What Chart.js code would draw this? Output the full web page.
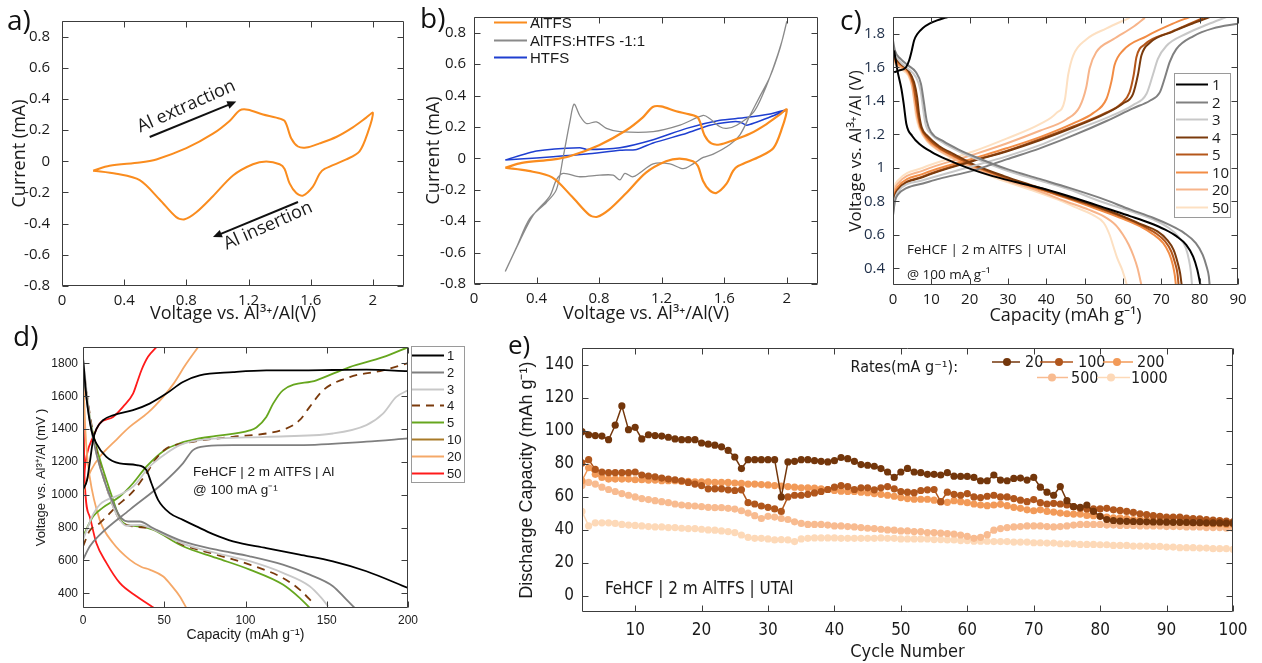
<!DOCTYPE html>
<html>
<head>
<meta charset="utf-8">
<script src="https://cdn.jsdelivr.net/npm/chart.js@4.4.1/dist/chart.umd.min.js"></script>
<style>
  html, body { margin: 0; padding: 0; background: #fff; }
  body { width: 1262px; height: 663px; position: relative; overflow: hidden; }
  .panel { position: absolute; }
  .panel canvas { display: block; }
  .tag { position: absolute; font-family: 'Open Sans', 'Noto Sans', sans-serif; color: #111; line-height: 1; }
</style>
</head>
<body>
<div class="panel" style="left:0;top:0"><canvas id="ca" width="420" height="330"></canvas></div>
<div class="panel" style="left:420px;top:0"><canvas id="cb" width="420" height="330"></canvas></div>
<div class="panel" style="left:840px;top:0"><canvas id="cc" width="422" height="330"></canvas></div>
<div class="panel" style="left:0;top:330px"><canvas id="cd" width="500" height="333"></canvas></div>
<div class="panel" style="left:500px;top:330px"><canvas id="ce" width="762" height="333"></canvas></div>
<div class="tag" style="left:7px;top:5px;font-size:28px">a)</div>
<div class="tag" style="left:420px;top:3px;font-size:28px">b)</div>
<div class="tag" style="left:840px;top:5px;font-size:28px">c)</div>
<div class="tag" style="left:13px;top:321px;font-size:28px">d)</div>
<div class="tag" style="left:508px;top:331px;font-size:26px">e)</div>
<script>
// ---------- fonts ----------
const F_UI = "'Open Sans', 'Noto Sans', sans-serif";
const F_ARIAL = "'Liberation Sans', Arial, sans-serif";
const F_NARROW = "'Liberation Sans Narrow', 'DejaVu Sans Condensed', 'Liberation Sans', sans-serif";

// ---------- a) / b) cyclic voltammetry (V vs. Al3+/Al, mA) ----------
const cvAlTFS = [[0.2,-0.06],[0.306,-0.029],[0.5,-0.008],[0.607,0.012],[0.8,0.084],[0.971,0.177],[1.078,0.259],[1.143,0.327],[1.196,0.331],[1.293,0.300],[1.378,0.280],[1.432,0.259],[1.475,0.146],[1.518,0.095],[1.571,0.088],[1.657,0.115],[1.764,0.156],[1.871,0.218],[1.957,0.280],[2.0,0.311],[1.968,0.187],[1.914,0.064],[1.829,0.012],[1.689,-0.049],[1.657,-0.080],[1.614,-0.163],[1.55,-0.220],[1.507,-0.204],[1.464,-0.142],[1.432,-0.049],[1.4,-0.019],[1.314,-0.002],[1.228,-0.019],[1.1,-0.091],[0.971,-0.224],[0.864,-0.327],[0.789,-0.372],[0.735,-0.358],[0.628,-0.245],[0.5,-0.121],[0.349,-0.08],[0.2,-0.06]];
const cvMixed = [[0.2,-0.72],[0.271,-0.568],[0.356,-0.384],[0.463,-0.281],[0.527,-0.199],[0.57,0.006],[0.613,0.232],[0.64,0.345],[0.676,0.273],[0.719,0.222],[0.783,0.232],[0.847,0.191],[0.933,0.170],[1.146,0.170],[1.317,0.211],[1.466,0.273],[1.509,0.252],[1.573,0.201],[1.616,0.191],[1.68,0.211],[1.787,0.293],[1.851,0.416],[1.915,0.58],[1.969,0.745],[2.0,0.87],[1.958,0.704],[1.893,0.519],[1.829,0.396],[1.765,0.273],[1.701,0.15],[1.637,0.088],[1.53,0.027],[1.466,0.006],[1.402,-0.035],[1.338,-0.066],[1.253,-0.035],[1.146,-0.035],[1.018,-0.117],[0.965,-0.096],[0.933,-0.137],[0.89,-0.107],[0.805,-0.107],[0.677,-0.117],[0.57,-0.096],[0.527,-0.137],[0.485,-0.24],[0.378,-0.363],[0.292,-0.527],[0.2,-0.72]];
const cvHTFS = [[0.2,-0.01],[0.4,0.047],[0.677,0.068],[0.72,0.057],[0.933,0.068],[1.146,0.119],[1.36,0.191],[1.573,0.242],[1.723,0.258],[1.893,0.283],[2.0,0.31],[1.893,0.263],[1.744,0.211],[1.701,0.232],[1.637,0.232],[1.509,0.211],[1.36,0.160],[1.146,0.098],[1.04,0.057],[0.933,0.051],[0.72,0.027],[0.506,0.01],[0.292,-0.004],[0.2,-0.01]];
const cvXTicks = [0, 0.4, 0.8, 1.2, 1.6, 2];
const cvYTicks = [-0.8, -0.6, -0.4, -0.2, 0, 0.2, 0.4, 0.6, 0.8];

// ---------- c) charge / discharge, FeHCF | AlTFS | UTAl (mAh/g, V) ----------
const c1Charge = [[0.3,1.57],[1.5,1.58],[3.4,1.60],[4.2,1.64],[4.9,1.70],[5.5,1.76],[6.4,1.80],[7.8,1.835],[9.5,1.86],[11.5,1.88],[13.5,1.895],[15,1.905]];
const c1Discharge = [[0.3,1.70],[1.2,1.575],[2.2,1.47],[2.8,1.38],[3.5,1.26],[5,1.19],[7,1.14],[10,1.095],[14,1.05],[20,0.995],[26,0.95],[32,0.915],[40,0.87],[48,0.815],[56,0.755],[62,0.71],[67,0.67],[71,0.63],[74,0.59],[76.5,0.54],[78.3,0.47],[79.4,0.39],[80.2,0.30]];
const c2Charge = [[0,0.715],[0.5,0.80],[1.3,0.84],[3.5,0.878],[7.8,0.906],[12.2,0.935],[20.9,0.983],[29.6,1.05],[38.3,1.116],[47,1.193],[55.7,1.279],[62.6,1.355],[67,1.40],[69.6,1.45],[70.9,1.536],[72.2,1.632],[73.9,1.708],[78.3,1.785],[83.5,1.832],[90,1.86]];
const c2Discharge = [[0,1.76],[0.5,1.70],[2,1.65],[4,1.61],[6,1.57],[7.3,1.50],[8,1.40],[8.8,1.28],[10,1.21],[13,1.16],[17,1.11],[22,1.06],[30,0.99],[38,0.935],[46,0.88],[54,0.82],[62,0.75],[68,0.70],[72,0.66],[76,0.61],[79,0.55],[80.8,0.48],[81.8,0.41],[82.4,0.35],[82.6,0.30]];
const c3Charge = [[0,0.72],[0.5,0.81],[1.3,0.858],[7.8,0.925],[20.9,1.01],[29.6,1.068],[38.3,1.135],[47,1.22],[55.7,1.298],[62.6,1.374],[66.1,1.44],[67.8,1.555],[69.1,1.65],[71.3,1.727],[76.5,1.80],[82,1.855],[87,1.9]];
const c3Discharge = [[0,1.72],[0.5,1.68],[2,1.63],[4,1.59],[6,1.54],[7.2,1.46],[7.8,1.36],[8.5,1.26],[10,1.2],[13,1.15],[17,1.10],[22,1.05],[30,0.98],[38,0.925],[46,0.87],[54,0.80],[62,0.74],[68,0.69],[72,0.64],[74.8,0.58],[76.4,0.52],[77.2,0.45],[77.7,0.38],[78,0.30]];
const c4Charge = [[0,0.753],[0.5,0.83],[1.3,0.868],[7.8,0.944],[20.9,1.04],[29.6,1.097],[38.3,1.164],[47,1.24],[55.7,1.326],[60,1.384],[62.6,1.44],[63.9,1.555],[64.8,1.67],[67,1.746],[73,1.813],[78,1.86],[82.6,1.9]];
const c4Discharge = [[0,1.68],[0.5,1.66],[2,1.62],[4,1.58],[5.5,1.51],[6.3,1.42],[6.8,1.32],[7.5,1.24],[9,1.19],[12,1.13],[16,1.08],[21,1.02],[29,0.95],[37,0.89],[45,0.83],[53,0.77],[60,0.71],[65,0.66],[69,0.62],[71.5,0.57],[73.2,0.51],[74.3,0.43],[74.9,0.37],[75.3,0.30]];
const c5Charge = [[0,0.763],[0.5,0.835],[1.3,0.872],[7.8,0.948],[20.9,1.044],[29.6,1.10],[38.3,1.17],[47,1.246],[55.7,1.33],[59.6,1.384],[61.7,1.45],[62.8,1.555],[63.5,1.66],[65.7,1.737],[72.2,1.808],[77,1.855],[80.9,1.895]];
const c5Discharge = [[0,1.67],[0.5,1.65],[2,1.62],[4,1.58],[5.3,1.50],[6,1.40],[6.6,1.31],[7.3,1.24],[9,1.18],[12,1.12],[16,1.07],[21,1.015],[29,0.945],[37,0.885],[45,0.825],[53,0.765],[60,0.705],[65,0.655],[68.5,0.61],[71,0.56],[72.6,0.50],[73.6,0.43],[74.2,0.37],[74.5,0.30]];
const c10Charge = [[0,0.773],[0.5,0.85],[1.3,0.887],[7.8,0.963],[20.9,1.055],[29.6,1.116],[38.3,1.183],[47,1.265],[52.2,1.326],[55.7,1.412],[57,1.517],[57.8,1.613],[60,1.70],[66.1,1.785],[73,1.86],[77.4,1.9]];
const c10Discharge = [[0,1.66],[0.5,1.64],[2,1.61],[4,1.57],[5.2,1.50],[5.9,1.40],[6.5,1.31],[7.2,1.24],[9,1.17],[12,1.115],[16,1.065],[21,1.01],[29,0.94],[37,0.88],[45,0.82],[53,0.755],[60,0.695],[64.5,0.65],[68,0.60],[70.5,0.55],[72,0.49],[73,0.42],[73.5,0.36],[73.8,0.30]];
const c20Charge = [[0,0.79],[0.5,0.87],[1.3,0.906],[7.8,0.983],[20.9,1.078],[29.6,1.145],[38.3,1.221],[45.2,1.288],[48.7,1.364],[50.4,1.479],[51.3,1.594],[53,1.689],[57.4,1.766],[62.6,1.84],[65.7,1.895]];
const c20Discharge = [[0,1.65],[0.5,1.63],[2,1.60],[4,1.56],[5,1.49],[5.6,1.40],[6.2,1.31],[7,1.24],[9,1.16],[12,1.105],[16,1.055],[21,1.0],[29,0.93],[37,0.87],[45,0.80],[51,0.75],[55,0.71],[58,0.66],[60,0.60],[61.5,0.54],[62.8,0.47],[63.8,0.40],[64.8,0.30]];
const c50Charge = [[0,0.81],[0.5,0.89],[1.3,0.925],[7.8,1.0],[20.9,1.097],[29.6,1.174],[38.3,1.26],[42.6,1.326],[44.8,1.403],[45.7,1.555],[47,1.67],[50.4,1.766],[55.7,1.832],[61.7,1.895]];
const c50Discharge = [[0,1.64],[0.5,1.62],[2,1.59],[4,1.55],[5,1.48],[5.5,1.40],[6,1.31],[6.8,1.24],[9,1.155],[12,1.10],[16,1.05],[21,0.99],[29,0.92],[37,0.86],[43,0.81],[48,0.76],[52,0.72],[55,0.67],[56.5,0.60],[57.5,0.53],[58.5,0.46],[59.8,0.39],[61,0.30]];
const cCycles = ['1', '2', '3', '4', '5', '10', '20', '50'];
const cColors = ['#000000', '#808080', '#c8c8c8', '#7a3a0c', '#b4561a', '#f28c45', '#f7b48a', '#fde0c2'];
const cXTicks = [0, 10, 20, 30, 40, 50, 60, 70, 80, 90];
const cYTicks = [0.4, 0.6, 0.8, 1, 1.2, 1.4, 1.6, 1.8];

// ---------- d) charge / discharge, FeHCF | AlTFS | Al (mAh/g, mV) ----------
const d1Charge = [[0,1030],[2.5,1090],[4.1,1191],[6.2,1333],[8.2,1400],[12.3,1454],[18.5,1484],[30.8,1515],[41,1555],[51.3,1616],[61.5,1687],[71.8,1727],[92.3,1747],[112.8,1758],[133,1758],[153.8,1760],[174.4,1762],[200,1753]];
const d1Discharge = [[0,1830],[0.4,1790],[2.1,1595],[5.2,1393],[8.2,1313],[14.4,1231],[22.6,1191],[32.9,1181],[39,1151],[42.1,1070],[46.2,969],[53.4,888],[61.5,847],[69.8,807],[80,760],[92.3,716],[112.8,675],[133.3,635],[153.8,594],[174.4,534],[200,432]];
const d2Charge = [[0,604],[4.1,685],[10.3,756],[28.7,908],[49.2,1070],[61.5,1191],[67.7,1272],[75.9,1296],[92.3,1302],[133,1302],[174.4,1323],[200,1343]];
const d2Discharge = [[0,1757],[4.1,1454],[8.2,1252],[14.4,1049],[19.5,928],[23.6,857],[27.7,837],[34.9,837],[43,797],[61.5,716],[82,665],[102.6,625],[123,574],[139.5,513],[153.8,443],[162,362],[167.2,311]];
const d3Charge = [[0,726],[6.2,880],[10.3,940],[22.6,1000],[30.8,1049],[41,1171],[51.3,1252],[59.5,1302],[71.8,1333],[112.8,1353],[153.8,1373],[174.4,1424],[184.6,1494],[192.8,1596],[200,1636]];
const d3Discharge = [[0,1838],[4.1,1474],[8.2,1252],[14.4,1049],[18.5,928],[22.6,847],[26.7,811],[34.9,817],[43,791],[61.5,702],[82,645],[102.6,595],[123,524],[139.5,443],[146.7,372],[150.8,321]];
const d4Charge = [[0,685],[4.1,780],[10.3,827],[20.5,928],[30.8,1020],[39,1130],[45,1220],[51.3,1282],[61.5,1312],[92.3,1353],[112.8,1373],[125,1403],[133.3,1454],[139.5,1535],[147.7,1636],[164.1,1717],[184.6,1758],[200,1802]];
const d4Discharge = [[0,1798],[4.1,1495],[8.2,1272],[14.4,1049],[19.5,908],[22.6,847],[30.8,807],[41,797],[61.5,695],[82,635],[102.6,574],[123,493],[133.3,422],[142.6,331]];
const d5Charge = [[0,746],[6.2,867],[12,920],[22.6,989],[30.8,1070],[39,1171],[50,1270],[59.5,1313],[70,1340],[82,1358],[102.6,1392],[106.7,1410],[112.8,1474],[117,1555],[123,1636],[143.6,1697],[164.1,1778],[184.6,1838],[200,1899]];
const d5Discharge = [[0,1778],[4.1,1474],[8.2,1292],[14.4,1090],[18.5,969],[22.6,857],[26.7,817],[34.9,807],[43,787],[61.5,686],[82,615],[102.6,544],[123,453],[133.3,372],[139.5,311]];
const d10Charge = [];
const d10Discharge = [];
const d20Charge = [[0,1000],[2,1080],[5,1150],[10.3,1231],[20,1330],[28.7,1413],[40,1500],[49.2,1595],[56,1680],[63,1790],[70.8,1899]];
const d20Discharge = [[0,1800],[1,1500],[2,1300],[4.1,1110],[10.3,847],[18.5,706],[28.7,605],[36,560],[41,544],[49.2,503],[55,440],[59.5,382],[63.6,311]];
const d50Charge = [[0,1050],[1,1150],[2.5,1250],[6.2,1353],[10.3,1434],[18.5,1474],[24.6,1535],[30.8,1616],[33.5,1690],[35.9,1757],[40,1840],[45.2,1899]];
const d50Discharge = [[0,1700],[0.5,1400],[1,1090],[4.1,867],[8.2,706],[14.4,585],[22.6,463],[32.9,382],[42.1,321],[43.5,311]];
const dCycles = ['1', '2', '3', '4', '5', '10', '20', '50'];
const dColors = ['#000000', '#7f7f7f', '#c8c8c8', '#7a3a0c', '#66a61e', '#a87a28', '#f5a868', '#ff1a1a'];
const dXTicks = [0, 50, 100, 150, 200];
const dYTicks = [400, 600, 800, 1000, 1200, 1400, 1600, 1800];

// ---------- e) rate cycling, discharge capacity (mAh/g) ----------
const cycleNo = [2,3,4,5,6,7,8,9,10,11, 12,13,14,15,16,17,18,19,20,21, 22,23,24,25,26,27,28,29,30,31, 32,33,34,35,36,37,38,39,40,41, 42,43,44,45,46,47,48,49,50,51, 52,53,54,55,56,57,58,59,60,61, 62,63,64,65,66,67,68,69,70,71, 72,73,74,75,76,77,78,79,80,81, 82,83,84,85,86,87,88,89,90,91, 92,93,94,95,96,97,98,99,100];
const cap20 = [99.4,97.5,97,96.7,94.5,103.3,115,100.6,102,95, 97.5,97,96.7,96,95,94.5,94.5,94.5,92.5,91.8, 91.2,90.2,88,84,77,82.4,82.4,82.4,82.4,82.4, 59.8,81,81.4,82.4,82.4,81.8,81.4,81,81.8,83.7, 83,81.4,79.4,79,78.4,77,74.9,71.6,74.9,77.1, 74.9,74.5,73.5,73.5,73.1,74.5,72.4,72.2,72.2,71.6, 69.6,69.6,73.1,70,69.6,71,71.2,70,71.6,65.7, 62.7,60.8,66.1,57.5,53.9,53.5,54.9,51,48,46.1, 45.5,45.1,45,44.9,44.8,44.7,44.6,44.6,44.5,44.4, 44.4,44.3,44.2,44.2,44.1,44.0,44.0,43.9,43.9];
const cap100 = [80.4,82.4,76.5,74.9,74.5,74.5,74.5,74.5,74.9,73.1, 72.5,72,71.2,70.6,70.2,69.6,68.6,67.6,66.7,64.7, 64.7,64.7,64.1,63.7,64.1,56.3,55.5,54.3,53.5,52.5, 51,59.8,60.8,60.8,61.4,62.2,63.1,64.3,65.7,66.7, 66.1,64.3,65.3,65.3,64.1,65.3,66.1,64.7,63.1,62.7, 62.4,63.7,64.1,64.3,56.9,62.7,61.4,60.8,61.8,59.8, 59.4,60.2,60.8,59.8,59.8,58.8,57.8,56.9,58.2,56.3, 55.5,55.9,55.5,54.9,53.9,52.9,52.5,52.5,52.5,52.9, 52,51.6,51,50.4,49.6,49,48.4,48,47.6,47.6, 47.5,47,46.7,46.5,46.1,45.7,45.5,45.1,44.7];
const cap200 = [69.6,77.5,73.5,71.6,70.6,70.6,70.6,70.6,70.2,70.2, 70,70,69.6,69.6,69.6,69.2,69.2,69,69,69, 68.6,68.6,68.6,68.2,68,67.6,67.6,67.3,67.1,66.7, 66.3,66.1,65.7,65.3,65.3,65.1,64.7,64.3,63.7,63.3, 63.1,63.1,62.7,62.4,61.8,61.4,60.8,60.2,59.4,58.8, 58.4,58.4,58.4,57.8,56.9,56.5,57.5,56.9,56.3,55.5, 54.9,54.5,54.9,55.3,54.5,53.5,52.9,52,51.4,52, 51,50.6,50,49.6,49.4,49.4,48.6,48.4,48,47.6, 47.1,47.1,46.7,46.1,46.1,45.7,45.5,45.1,45.1,44.7, 44.5,44.5,44.1,44.1,43.7,43.5,43.5,43.1,43.1];
const cap500 = [66.7,68.6,67.6,65.7,64.3,63.1,61.8,60.8,59.8,58.8, 58.2,57.5,56.9,56.3,55.5,54.9,54.5,54.3,53.9,53.5, 53.3,53.3,52.9,52.4,51.4,50,48.4,46.7,48,47.6, 46.7,46.1,44.7,43.7,43.1,43.1,43.1,42.7,42.2,42.2, 41.8,41.6,41.2,40.8,40.6,40.2,39.8,39.6,39.2,39.2, 38.8,38.8,38.2,38.2,37.8,37.6,37.3,36.7,35.9,34.7, 35.3,36.9,39.6,40.6,41.2,41.6,41.8,42.2,42.2,42.2, 41.8,41.6,41.8,42.2,42.7,43.1,43.1,43.1,43.1,42.7, 42.7,42.5,42.5,42.5,42.2,42.2,42.2,42.2,41.8,41.8, 41.8,41.6,41.6,41.6,41.2,41.2,41.2,40.8,40.8];
const cap1000 = [51,42.2,44.1,44.1,44.1,43.7,43.1,42.7,42.5,42.2, 41.8,41.6,41.6,41.2,41.2,40.8,40.6,40.6,40.2,39.8, 39.6,39.2,38.8,38.2,36.7,35.3,34.7,34.7,34.3,33.7, 33.9,33.7,32.7,34.3,34.7,34.9,34.9,34.9,34.9,34.7, 34.7,34.7,34.7,34.7,34.7,34.9,34.7,34.7,34.3,34.3, 34.3,34.3,34.3,33.9,33.9,33.7,33.7,33.3,33.3,32.9, 32.9,32.9,32.7,32.7,32.7,32.4,32.4,32.4,32,32, 31.8,31.8,31.4,31.4,31.4,31,31,31,30.8,30.8, 30.4,30.4,30.4,30,30,30,29.8,29.8,29.4,29.4, 29,29,29,28.8,28.8,28.4,28.4,28.4,28];
const rateLabels = ['20', '100', '200', '500', '1000'];
const rateColors = ['#73360b', '#b0561c', '#f29a58', '#f8bb90', '#fdd9b8'];
const eXTicks = [10, 20, 30, 40, 50, 60, 70, 80, 90, 100];
const eYTicks = [0, 20, 40, 60, 80, 100, 120, 140];

// ---------- helpers ----------
const toXY = pairs => pairs.map(p => ({ x: p[0], y: p[1] }));
const plain = v => String(v);

// box around the plot with inward tick marks on all four sides
const framePlugin = {
  id: 'frame',
  afterDatasetsDraw(chart) {
    const { ctx, chartArea: A } = chart;
    const xs = chart.scales.x, ys = chart.scales.y;
    const len = 6;
    const L = Math.round(A.left) + 0.5, R = Math.round(A.right) - 0.5;
    const T = Math.round(A.top) + 0.5, B = Math.round(A.bottom) - 0.5;
    ctx.save();
    ctx.strokeStyle = '#3c3c3c';
    ctx.lineWidth = 1;
    ctx.beginPath();
    ctx.rect(L, T, R - L, B - T);
    xs.ticks.forEach(t => {
      const p = Math.round(xs.getPixelForValue(t.value)) + 0.5;
      ctx.moveTo(p, B); ctx.lineTo(p, B - len);
      ctx.moveTo(p, T); ctx.lineTo(p, T + len);
    });
    ys.ticks.forEach(t => {
      const p = Math.round(ys.getPixelForValue(t.value)) + 0.5;
      ctx.moveTo(L, p); ctx.lineTo(L + len, p);
      ctx.moveTo(R, p); ctx.lineTo(R - len, p);
    });
    ctx.stroke();
    ctx.restore();
  }
};

// free text and arrows; positions in data units (d:true) or canvas pixels
function notes(items) {
  return {
    id: 'notes',
    afterDraw(chart) {
      const { ctx } = chart;
      const xs = chart.scales.x, ys = chart.scales.y;
      const px = it => it.d ? [xs.getPixelForValue(it.x), ys.getPixelForValue(it.y)] : [it.x, it.y];
      items.forEach(it => {
        ctx.save();
        if (it.arrow) {
          const a = it.d ? [xs.getPixelForValue(it.x0), ys.getPixelForValue(it.y0)] : [it.x0, it.y0];
          const b = it.d ? [xs.getPixelForValue(it.x1), ys.getPixelForValue(it.y1)] : [it.x1, it.y1];
          const ang = Math.atan2(b[1] - a[1], b[0] - a[0]);
          const h = 9;
          ctx.strokeStyle = '#111'; ctx.fillStyle = '#111'; ctx.lineWidth = 2;
          ctx.beginPath();
          ctx.moveTo(a[0], a[1]);
          ctx.lineTo(b[0] - h * 0.8 * Math.cos(ang), b[1] - h * 0.8 * Math.sin(ang));
          ctx.stroke();
          ctx.beginPath();
          ctx.moveTo(b[0], b[1]);
          ctx.lineTo(b[0] - h * Math.cos(ang) + 4 * Math.sin(ang), b[1] - h * Math.sin(ang) - 4 * Math.cos(ang));
          ctx.lineTo(b[0] - h * Math.cos(ang) - 4 * Math.sin(ang), b[1] - h * Math.sin(ang) + 4 * Math.cos(ang));
          ctx.closePath();
          ctx.fill();
        } else {
          const [x, y] = px(it);
          ctx.translate(x, y);
          if (it.rot) ctx.rotate(it.rot * Math.PI / 180);
          ctx.font = it.font;
          ctx.fillStyle = it.color || '#1a1a1a';
          ctx.textAlign = it.align || 'left';
          ctx.textBaseline = 'middle';
          ctx.fillText(it.text, 0, 0);
        }
        ctx.restore();
      });
    }
  };
}

// line-sample key built from datasets flagged with key:true
function lineKey(k) {
  return {
    id: 'lineKey',
    afterDraw(chart) {
      const { ctx } = chart;
      const items = chart.data.datasets.filter(d => d.key);
      ctx.save();
      if (k.box) {
        ctx.fillStyle = '#fff';
        ctx.fillRect(k.box[0], k.box[1], k.box[2], k.box[3]);
        ctx.strokeStyle = '#9a9a9a'; ctx.lineWidth = 1;
        ctx.strokeRect(k.box[0] + 0.5, k.box[1] + 0.5, k.box[2], k.box[3]);
      }
      items.forEach((d, i) => {
        const y = Math.round(k.y0 + i * k.dy) + 0.5;
        ctx.strokeStyle = d.borderColor;
        ctx.lineWidth = k.lw || d.borderWidth;
        ctx.setLineDash(d.borderDash || []);
        ctx.beginPath(); ctx.moveTo(k.x0, y); ctx.lineTo(k.x1, y); ctx.stroke();
        ctx.setLineDash([]);
        ctx.fillStyle = '#1a1a1a';
        ctx.font = k.font; ctx.textAlign = 'left'; ctx.textBaseline = 'middle';
        ctx.fillText(d.label, k.tx, y + 1);
      });
      ctx.restore();
    }
  };
}

// line+marker key laid out in slots: [lineStart, lineEnd, markerX, textX, rowY]
function markerKey(slots, font) {
  return {
    id: 'markerKey',
    afterDraw(chart) {
      const { ctx } = chart;
      ctx.save();
      chart.data.datasets.forEach((d, i) => {
        const s = slots[i];
        ctx.strokeStyle = d.borderColor; ctx.lineWidth = 1.5;
        ctx.beginPath(); ctx.moveTo(s[0], s[4]); ctx.lineTo(s[1], s[4]); ctx.stroke();
        ctx.fillStyle = d.backgroundColor;
        ctx.beginPath(); ctx.arc(s[2], s[4], 4, 0, Math.PI * 2); ctx.fill();
        ctx.fillStyle = '#1a1a1a'; ctx.font = font;
        ctx.textAlign = 'left'; ctx.textBaseline = 'middle';
        ctx.fillText(d.label, s[3], s[4] + 1);
      });
      ctx.restore();
    }
  };
}

// fixes the plotting rectangle inside its canvas
function axes(box, W, H, x, y) {
  const [L, T, R, B] = box;
  return {
    layout: { padding: { left: 0, top: T, right: W - R, bottom: 0 } },
    scales: {
      x: Object.assign({
        type: 'linear', position: 'bottom',
        afterFit: s => { s.height = H - B; },
        afterBuildTicks: s => { s.ticks = x.ticks.map(v => ({ value: v })); },
        grid: { display: false, drawTicks: false }, border: { display: false },
        ticks: { font: x.font, color: x.color || '#1a1a1a', padding: x.pad, maxRotation: 0, autoSkip: false, callback: plain },
        title: { display: true, text: x.title, font: x.tfont, color: '#1a1a1a', padding: { top: 0, bottom: x.tpad } }
      }, x.range),
      y: Object.assign({
        type: 'linear', position: 'left',
        afterFit: s => { s.width = L; },
        afterBuildTicks: s => { s.ticks = y.ticks.map(v => ({ value: v })); },
        grid: { display: false, drawTicks: false }, border: { display: false },
        ticks: { font: y.font, color: y.color || '#1a1a1a', padding: y.pad, autoSkip: false, callback: plain },
        title: { display: true, text: y.title, font: y.tfont, color: '#1a1a1a', padding: { top: y.tpad, bottom: 0 } }
      }, y.range)
    }
  };
}

function base(extra, plugins) {
  return {
    type: 'scatter',
    data: { datasets: extra.datasets },
    options: Object.assign({
      responsive: false, animation: false, devicePixelRatio: 1,
      plugins: { legend: { display: false }, tooltip: { enabled: false } },
      elements: { point: { radius: 0 } }
    }, extra.opts),
    plugins: [framePlugin].concat(plugins)
  };
}

// ---------- a) ----------
{
  const ax = axes([62, 11, 404, 286], 420, 330,
    { ticks: cvXTicks, range: { min: 0, max: 2.2 }, font: { family: F_UI, size: 15 }, pad: 6,
      title: 'Voltage vs. Al³⁺/Al(V)', tfont: { family: F_UI, size: 18 }, tpad: 5 },
    { ticks: cvYTicks, range: { min: -0.8, max: 0.9 }, font: { family: F_UI, size: 15 }, pad: 12,
      title: 'Current (mA)', tfont: { family: F_UI, size: 18 }, tpad: 9 });
  new Chart(document.getElementById('ca'), base({
    datasets: [{ label: 'AlTFS', data: toXY(cvAlTFS), showLine: true, borderColor: '#fa8c1e', borderWidth: 2, tension: 0.3 }],
    opts: ax
  }, [notes([
    { arrow: true, d: true, x0: 0.564, y0: 0.156, x1: 1.121, y1: 0.383 },
    { arrow: true, d: true, x0: 1.518, y0: -0.261, x1: 0.971, y1: -0.486 },
    { d: true, x: 0.80, y: 0.352, text: 'Al extraction', rot: -24, align: 'center', font: "18px " + F_UI },
    { d: true, x: 1.325, y: -0.414, text: 'Al insertion', rot: -24, align: 'center', font: "18px " + F_UI }
  ])]));
}

// ---------- b) ----------
{
  const ax = axes([54, 8, 398, 284], 420, 330,
    { ticks: cvXTicks, range: { min: 0, max: 2.2 }, font: { family: F_UI, size: 15 }, pad: 6,
      title: 'Voltage vs. Al³⁺/Al(V)', tfont: { family: F_UI, size: 18 }, tpad: 5 },
    { ticks: cvYTicks, range: { min: -0.8, max: 0.9 }, font: { family: F_UI, size: 15 }, pad: 8,
      title: 'Current (mA)', tfont: { family: F_UI, size: 18 }, tpad: 3 });
  new Chart(document.getElementById('cb'), base({
    datasets: [
      { label: 'AlTFS', key: true, data: toXY(cvAlTFS), showLine: true, borderColor: '#fa8c1e', borderWidth: 2.2, tension: 0.3 },
      { label: 'AlTFS:HTFS -1:1', key: true, data: toXY(cvMixed), showLine: true, borderColor: '#8a8a8a', borderWidth: 1.3, tension: 0.3 },
      { label: 'HTFS', key: true, data: toXY(cvHTFS), showLine: true, borderColor: '#1f3fd0', borderWidth: 1.5, tension: 0.2 }
    ],
    opts: ax
  }, [lineKey({ x0: 74, x1: 107, tx: 110, y0: 22, dy: 17.6, font: "15px " + F_ARIAL, lw: 2 })]));
}

// ---------- c) ----------
{
  const sets = [
    [c1Charge, c1Discharge], [c2Charge, c2Discharge], [c3Charge, c3Discharge], [c4Charge, c4Discharge],
    [c5Charge, c5Discharge], [c10Charge, c10Discharge], [c20Charge, c20Discharge], [c50Charge, c50Discharge]
  ];
  const ds = [];
  sets.forEach((pair, i) => {
    ds.push({ label: cCycles[i], key: true, data: toXY(pair[0]), showLine: true, borderColor: cColors[i], borderWidth: 2, cubicInterpolationMode: 'monotone' });
    ds.push({ label: cCycles[i], data: toXY(pair[1]), showLine: true, borderColor: cColors[i], borderWidth: 2, cubicInterpolationMode: 'monotone' });
  });
  const ax = axes([53, 7, 398, 285], 422, 330,
    { ticks: cXTicks, range: { min: 0, max: 90 }, font: { family: F_UI, size: 15 }, pad: 6,
      title: 'Capacity (mAh g⁻¹)', tfont: { family: F_UI, size: 18 }, tpad: 3 },
    { ticks: cYTicks, range: { min: 0.3, max: 1.9 }, font: { family: F_UI, size: 15 }, pad: 8, color: '#1e2e48',
      title: 'Voltage vs. Al³⁺/Al (V)', tfont: { family: F_UI, size: 17 }, tpad: 6 });
  new Chart(document.getElementById('cc'), base({ datasets: ds, opts: ax }, [
    lineKey({ box: [334, 73, 56, 144], x0: 336, x1: 368, tx: 372, y0: 84, dy: 17.5, font: "15px " + F_UI, lw: 2 }),
    notes([
      { x: 67, y: 250, text: 'FeHCF | 2 m AlTFS | UTAl', font: "13.5px " + F_UI },
      { x: 67, y: 275, text: '@ 100 mA g⁻¹', font: "13.5px " + F_UI }
    ])
  ]));
}

// ---------- d) ----------
{
  const sets = [
    [d1Charge, d1Discharge], [d2Charge, d2Discharge], [d3Charge, d3Discharge], [d4Charge, d4Discharge],
    [d5Charge, d5Discharge], [d10Charge, d10Discharge], [d20Charge, d20Discharge], [d50Charge, d50Discharge]
  ];
  const ds = [];
  sets.forEach((pair, i) => {
    const dash = dCycles[i] === '4' ? [8, 6] : [];
    ds.push({ label: dCycles[i], key: true, data: toXY(pair[0]), showLine: true, borderColor: dColors[i], borderWidth: 1.8, borderDash: dash, cubicInterpolationMode: 'monotone' });
    ds.push({ label: dCycles[i], data: toXY(pair[1]), showLine: true, borderColor: dColors[i], borderWidth: 1.8, borderDash: dash, cubicInterpolationMode: 'monotone' });
  });
  const ax = axes([83, 17, 408, 278], 500, 333,
    { ticks: dXTicks, range: { min: 0, max: 200 }, font: { family: F_ARIAL, size: 12 }, pad: 5,
      title: 'Capacity (mAh g⁻¹)', tfont: { family: F_ARIAL, size: 14 }, tpad: 19 },
    { ticks: dYTicks, range: { min: 310, max: 1900 }, font: { family: F_ARIAL, size: 12 }, pad: 5,
      title: 'Voltage vs. Al³⁺/Al (mV )', tfont: { family: F_ARIAL, size: 13 }, tpad: 34 });
  new Chart(document.getElementById('cd'), base({ datasets: ds, opts: ax }, [
    lineKey({ box: [411, 16, 53, 136], x0: 412, x1: 444, tx: 447, y0: 25, dy: 16.8, font: "13px " + F_ARIAL, lw: 2 }),
    notes([
      { x: 193, y: 142, text: 'FeHCF | 2 m AlTFS | Al', font: "13.5px " + F_ARIAL },
      { x: 193, y: 160, text: '@ 100 mA g⁻¹', font: "13.5px " + F_ARIAL }
    ])
  ]));
}

// ---------- e) ----------
{
  const series = [cap20, cap100, cap200, cap500, cap1000];
  const ds = series.map((vals, i) => ({
    label: rateLabels[i],
    data: cycleNo.map((c, j) => ({ x: c, y: vals[j] })),
    showLine: true, borderColor: rateColors[i], backgroundColor: rateColors[i], borderWidth: 1.5,
    pointRadius: 3.6, pointBorderWidth: 0, pointBackgroundColor: rateColors[i]
  }));
  const ax = axes([82, 11, 733, 282], 762, 333,
    { ticks: eXTicks, range: { min: 2, max: 100 }, font: { family: F_NARROW, size: 17 }, pad: 8,
      title: 'Cycle Number', tfont: { family: F_NARROW, size: 18 }, tpad: 0 },
    { ticks: eYTicks, range: { min: -10, max: 150 }, font: { family: F_NARROW, size: 17 }, pad: 8,
      title: 'Discharge Capacity (mAh g⁻¹)', tfont: { family: F_ARIAL, size: 18 }, tpad: 16 });
  new Chart(document.getElementById('ce'), base({ datasets: ds, opts: ax }, [
    markerKey([
      [492, 520, 507, 525, 32], [540, 573, 559, 578, 32], [603, 633, 617, 637, 32],
      [537, 568, 552, 571, 47.5], [597, 630, 611, 631, 47.5]
    ], "16px " + F_NARROW),
    notes([
      { x: 458, y: 38, align: 'right', text: 'Rates(mA g⁻¹):', font: "16px " + F_NARROW },
      { x: 105, y: 260, text: 'FeHCF | 2 m AlTFS | UTAl', font: "17px " + F_NARROW }
    ])
  ]));
}
</script>
</body>
</html>
